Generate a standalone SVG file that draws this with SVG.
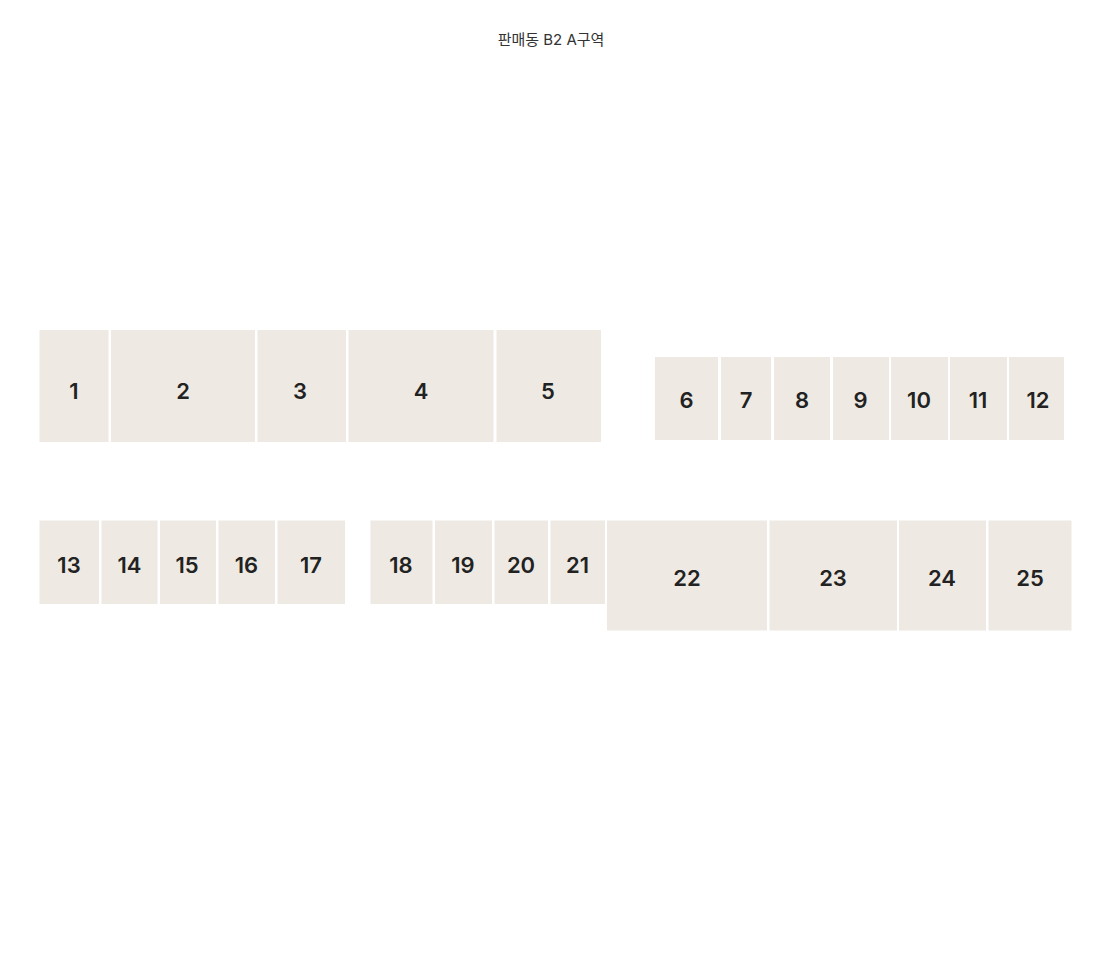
<svg xmlns="http://www.w3.org/2000/svg" width="1100" height="961" viewBox="0 0 1100 961">
<style>
.b{fill:#eeeae3}
.t{font-family:Inter,"Liberation Sans",sans-serif;font-size:22px;font-weight:600;fill:#222;text-anchor:middle;dominant-baseline:central}
.h{font-family:Inter,"Noto Sans CJK KR",sans-serif;font-size:15px;fill:#333;text-anchor:middle;dominant-baseline:central}
</style>
<rect width="1100" height="961" fill="#fff"/>
<text class="h" x="551" y="39">판매동 B2 A구역</text>
<g id="n1"><rect class="b" x="39.5" y="330" width="69" height="112"/><text class="t" x="74" y="391">1</text></g>
<g id="n2"><rect class="b" x="111" y="330" width="144" height="112"/><text class="t" x="183" y="391">2</text></g>
<g id="n3"><rect class="b" x="257.5" y="330" width="88.5" height="112"/><text class="t" x="300" y="391">3</text></g>
<g id="n4"><rect class="b" x="348.5" y="330" width="145" height="112"/><text class="t" x="421" y="391">4</text></g>
<g id="n5"><rect class="b" x="496.5" y="330" width="104.5" height="112"/><text class="t" x="548" y="391">5</text></g>
<g id="n6"><rect class="b" x="655" y="357" width="63" height="83"/><text class="t" x="686.5" y="400">6</text></g>
<g id="n7"><rect class="b" x="721" y="357" width="50" height="83"/><text class="t" x="746" y="400">7</text></g>
<g id="n8"><rect class="b" x="774" y="357" width="56" height="83"/><text class="t" x="802" y="400">8</text></g>
<g id="n9"><rect class="b" x="833" y="357" width="56" height="83"/><text class="t" x="860.5" y="400">9</text></g>
<g id="n10"><rect class="b" x="891" y="357" width="57" height="83"/><text class="t" x="919" y="400">10</text></g>
<g id="n11"><rect class="b" x="950" y="357" width="57" height="83"/><text class="t" x="978" y="400">11</text></g>
<g id="n12"><rect class="b" x="1009" y="357" width="55" height="83"/><text class="t" x="1038" y="400">12</text></g>
<g id="n13"><rect class="b" x="39.5" y="520.5" width="59.5" height="83.5"/><text class="t" x="69" y="565">13</text></g>
<g id="n14"><rect class="b" x="101.5" y="520.5" width="56" height="83.5"/><text class="t" x="129.5" y="565">14</text></g>
<g id="n15"><rect class="b" x="160" y="520.5" width="56" height="83.5"/><text class="t" x="187" y="565">15</text></g>
<g id="n16"><rect class="b" x="218.5" y="520.5" width="56.5" height="83.5"/><text class="t" x="246.5" y="565">16</text></g>
<g id="n17"><rect class="b" x="277.5" y="520.5" width="67.5" height="83.5"/><text class="t" x="311" y="565">17</text></g>
<g id="n18"><rect class="b" x="370.5" y="520.5" width="62" height="83.5"/><text class="t" x="401" y="565">18</text></g>
<g id="n19"><rect class="b" x="435" y="520.5" width="57" height="83.5"/><text class="t" x="463" y="565">19</text></g>
<g id="n20"><rect class="b" x="494.5" y="520.5" width="53.5" height="83.5"/><text class="t" x="521" y="565">20</text></g>
<g id="n21"><rect class="b" x="550.5" y="520.5" width="54.5" height="83.5"/><text class="t" x="577.5" y="565">21</text></g>
<g id="n22"><rect class="b" x="607" y="520.5" width="160" height="110"/><text class="t" x="687" y="578">22</text></g>
<g id="n23"><rect class="b" x="769.5" y="520.5" width="127.5" height="110"/><text class="t" x="833" y="578">23</text></g>
<g id="n24"><rect class="b" x="899" y="520.5" width="87" height="110"/><text class="t" x="942" y="578">24</text></g>
<g id="n25"><rect class="b" x="988.5" y="520.5" width="83" height="110"/><text class="t" x="1030" y="578">25</text></g>
<g id="connectors"></g>
</svg>
